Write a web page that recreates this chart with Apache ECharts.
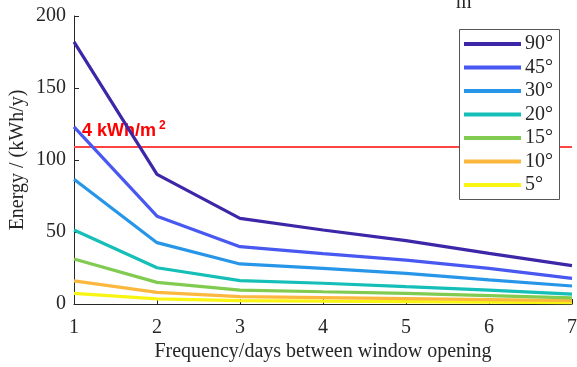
<!DOCTYPE html>
<html>
<head>
<meta charset="utf-8">
<script src="https://cdn.jsdelivr.net/npm/echarts@6/dist/echarts.min.js"></script>
<style>html,body{margin:0;padding:0;background:#fff}#chart{width:577px;height:367px}</style>
</head>
<body>
<div id="chart"></div>
<script>
// Days between window openings
const days = [1, 2, 3, 4, 5, 6, 7];
// Energy (kWh/y) per tilt angle
const tilt90 = [182, 90, 59.5, 51.4, 44, 35.2, 26.6];
const tilt45 = [123, 61, 39.8, 35, 30.5, 24.8, 17.8];
const tilt30 = [86.6, 42.6, 27.8, 24.8, 21.3, 16.7, 12.5];
const tilt20 = [51.4, 25.2, 16.2, 14.4, 12, 9.7, 6.9];
const tilt15 = [31.2, 15, 9.7, 8.5, 7.4, 5.8, 4.2];
const tilt10 = [16, 8.1, 5.1, 4.4, 3.7, 3, 2.3];
const tilt5 = [7.4, 3.5, 2.3, 2, 1.6, 1.2, 0.9];
const seriesNames = ['90°', '45°', '30°', '20°', '15°', '10°', '5°'];
const seriesColors = ['#3e26a8', '#4858f0', '#2796e8', '#15bfb8', '#80cb50', '#fcb83e', '#f8f512'];
const thresholdValue = 109;
const yTicks = { min: 0, max: 200, step: 50 };

const values = [tilt90, tilt45, tilt30, tilt20, tilt15, tilt10, tilt5];
const serif = 'Liberation Serif';
const ink = '#262626';

const series = values.map((vals, i) => ({
  name: seriesNames[i],
  type: 'line',
  data: days.map((d, j) => [d, vals[j]]),
  symbol: 'none',
  lineStyle: { width: 3.2, color: seriesColors[i] },
  itemStyle: { color: seriesColors[i] },
  z: 10 - i
}));

// Reference level line with its label
series.push({
  name: 'threshold',
  type: 'line',
  data: [],
  silent: true,
  markLine: {
    symbol: 'none',
    silent: true,
    lineStyle: { color: '#ff4444', width: 2, type: 'solid' },
    label: {
      show: true,
      position: 'insideStartTop',
      distance: [8, 5],
      formatter: '{a|4 kWh/m}{b|2}',
      rich: {
        a: { color: '#ff0000', fontFamily: 'Liberation Sans', fontWeight: 'bold', fontSize: 18 },
        b: { color: '#ff0000', fontFamily: 'Liberation Sans', fontWeight: 'bold', fontSize: 12, verticalAlign: 'top', padding: [0, 0, 10, 3] }
      }
    },
    data: [{ yAxis: thresholdValue }]
  },
  z: 1
});

const chart = echarts.init(document.getElementById('chart'), null, { renderer: 'canvas' });
chart.setOption({
  animation: false,
  backgroundColor: '#fff',
  title: {
    text: 'm',
    left: 451,
    top: -12,
    textStyle: { fontFamily: serif, fontWeight: 'normal', fontSize: 20, color: ink }
  },
  grid: { left: 74, right: 5, top: 16, bottom: 63, outerBoundsMode: 'none', containLabel: false },
  graphic: [{
    type: 'rect',
    shape: { x: 459.5, y: 29.5, width: 100, height: 170 },
    style: { fill: '#fff', stroke: '#555', lineWidth: 1 },
    z: 50
  }],
  legend: {
    data: seriesNames,
    orient: 'vertical',
    left: 459,
    top: 32,
    padding: [2, 4, 2, 5],
    itemGap: 3.5,
    itemWidth: 57,
    itemHeight: 4,
    icon: 'rect',
    z: 60,
    textStyle: { fontFamily: serif, fontSize: 20, color: ink, padding: [0, 0, 0, -1] }
  },
  xAxis: {
    type: 'value',
    min: 1, max: 7, interval: 1,
    name: 'Frequency/days between window opening',
    nameLocation: 'middle',
    nameGap: 38,
    nameMoveOverlap: false,
    nameTextStyle: { fontFamily: serif, fontSize: 20, color: ink },
    axisLine: { show: true, lineStyle: { color: ink, width: 1 } },
    axisTick: { show: true, inside: true, length: 5, lineStyle: { color: ink } },
    axisLabel: { fontFamily: serif, fontSize: 20, color: ink, margin: 14 },
    splitLine: { show: false }
  },
  yAxis: {
    type: 'value',
    min: yTicks.min, max: yTicks.max, interval: yTicks.step,
    name: 'Energy / (kWh/y)',
    nameLocation: 'middle',
    nameGap: 46,
    nameMoveOverlap: false,
    nameTextStyle: { fontFamily: serif, fontSize: 20, color: ink },
    axisLine: { show: true, lineStyle: { color: ink, width: 1 } },
    axisTick: { show: true, inside: true, length: 5, lineStyle: { color: ink } },
    axisLabel: { fontFamily: serif, fontSize: 20, color: ink, margin: 8 },
    splitLine: { show: false }
  },
  series: series
});
</script>
</body>
</html>
